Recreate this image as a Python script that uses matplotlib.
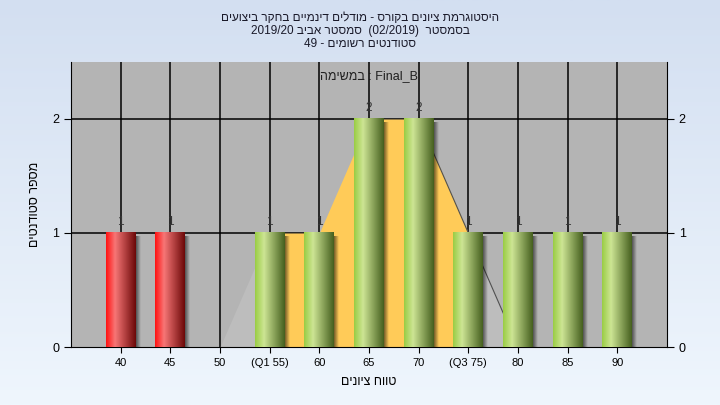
import numpy as np
import matplotlib.pyplot as plt
from matplotlib.colors import to_rgb

plt.rcParams['font.family'] = ['Liberation Sans', 'DejaVu Sans']

# data
tick_labels = ["40", "45", "50", "(Q1 55)", "60", "65", "70", "(Q3 75)", "80", "85", "90"]
counts = [1, 1, 0, 1, 1, 2, 2, 1, 1, 1, 1]
bar_kind = ["red", "red", "none", "green", "green", "green", "green", "green", "green", "green", "green"]
area_vals = [0, 0, 0, 1, 1, 2, 2, 1, 0, 0, 0]
q1_idx, q3_idx = 3, 7

# hebrew is written here in visual order (matplotlib has no bidi)
title_lines = ["םיעוציב רקחב םיימניד םילדומ - סרוקב םינויצ תמרגוטסיה",
               "2019/20 ביבא רטסמס  (02/2019)  רטסמסב",
               "49 - םימושר םיטנדוטס"]
legend_text = "המישמב : Final_B"
x_title = "םינויצ חווט"
y_title = "םיטנדוטס רפסמ"

fig = plt.figure(figsize=(7.2, 4.05), dpi=100)

# background gradient
bg = fig.add_axes([0, 0, 1, 1], zorder=-5)
top_c = np.array(to_rgb("#d3dff1"))
bot_c = np.array(to_rgb("#eff6fd"))
t = np.linspace(0, 1, 256)[:, None]
bg.imshow((top_c * (1 - t) + bot_c * t)[:, None, :], aspect='auto', extent=[0, 1, 0, 1])
bg.axis('off')

ax = fig.add_axes([71 / 720, 58 / 405, 596 / 720, 285 / 405])
ax.set_facecolor("#b4b4b4")
x = np.arange(len(counts))

# gridlines
for xi in x:
    ax.axvline(xi, color='black', lw=1.1, zorder=1)
for yv in [1, 2]:
    ax.axhline(yv, color='black', lw=1.1, zorder=1)

# area behind the bars
xa = np.array(x, dtype=float)
ya = np.array(area_vals, dtype=float)
ax.fill_between(xa[q1_idx - 1:q1_idx + 1], ya[q1_idx - 1:q1_idx + 1], color="#bdbdbd", lw=0, zorder=1.5)
ax.fill_between(xa[q3_idx:q3_idx + 2], ya[q3_idx:q3_idx + 2], color="#bdbdbd", lw=0, zorder=1.5)
ax.fill_between(xa[q1_idx:q3_idx + 1], ya[q1_idx:q3_idx + 1], color="#ffcb58", lw=0, zorder=1.6)
ax.plot(xa[6:9], ya[6:9], color="#505050", lw=0.8, zorder=1.7)


def gradient(stops, n=64):
    pos = [s[0] for s in stops]
    cols = np.array([to_rgb(s[1]) for s in stops])
    u = np.linspace(0, 1, n)
    return np.stack([np.interp(u, pos, cols[:, k]) for k in range(3)], axis=-1)


grads = {
    "green": gradient([(0, "#9acd45"), (0.3, "#cde594"), (1, "#46601f")]),
    "red": gradient([(0, "#ff1212"), (0.3, "#f77676"), (1, "#6c0909")]),
}

shadow = np.zeros((1, 32, 4))
shadow[0, :, 3] = np.linspace(0.55, 0, 32)

bw = 0.6
for xi, c, kind in zip(x, counts, bar_kind):
    if kind == "none" or c == 0:
        continue
    ax.imshow(shadow, aspect='auto', extent=[xi + bw / 2, xi + bw / 2 + 0.1, 0, c - 0.03], zorder=2)
    ax.imshow(grads[kind][None, :, :], aspect='auto', extent=[xi - bw / 2, xi + bw / 2, 0, c], zorder=3)
    ax.text(xi, c + 0.1, str(c), ha='center', va='center', fontsize=8.5, color="#353535", zorder=4)

ax.set_xlim(-1, 11)
ax.set_ylim(0, 2.5)
ax.set_xticks(x)
ax.set_xticklabels(tick_labels, fontsize=8)
ax.set_yticks([0, 1, 2])
ax.tick_params(axis='y', which='both', left=True, right=True, labelleft=True, labelright=True,
               labelsize=9, direction='out', length=5, colors='black')
ax.tick_params(axis='x', direction='out', length=4, labelsize=8, pad=4)
for s in ['left', 'right', 'bottom']:
    ax.spines[s].set_color('black')
ax.spines['top'].set_visible(False)

ax.text(0.5, 0.951, legend_text, transform=ax.transAxes, ha='center', va='center', fontsize=9,
        color="#202020", zorder=0.5)

ax.set_xlabel(x_title, fontsize=9, labelpad=6)
ax.set_ylabel(y_title, fontsize=9, labelpad=8)

for i, line in enumerate(title_lines):
    fig.text(0.5, 1 - (18 + 13 * i) / 405, line, ha='center', va='center', fontsize=8.5, color="#1a1a2a")

fig.savefig("out.png", dpi=100)
